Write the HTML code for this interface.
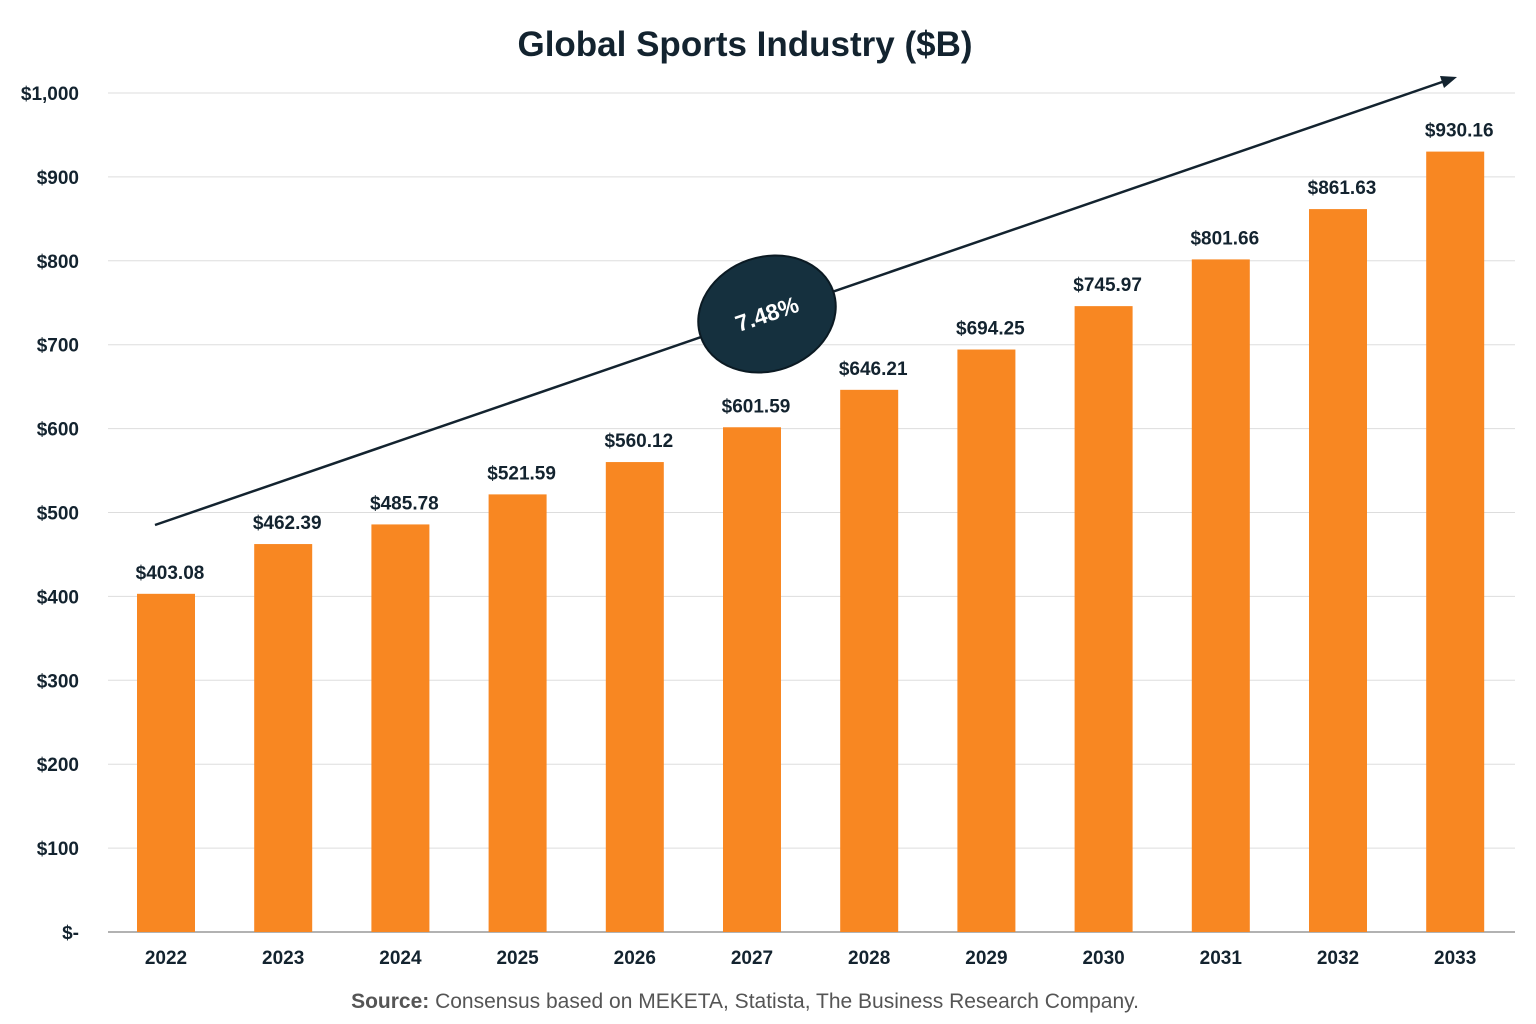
<!DOCTYPE html>
<html><head><meta charset="utf-8"><style>
body{margin:0;background:#fff;}
svg{display:block;font-family:"Liberation Sans",sans-serif;}
</style></head><body>
<svg id="chart" width="1536" height="1024">
<text x="745" y="56" text-anchor="middle" font-size="35" font-weight="bold" fill="#13232f">Global Sports Industry ($B)</text>
<g id="grid"></g><g id="bars"></g>
<line x1="155" y1="525" x2="1445" y2="81" stroke="#13232f" stroke-width="2.5"/>
<polygon points="1457,77 1440,76 1444,88" fill="#13232f"/>
<g transform="translate(767,314) rotate(-19)">
<ellipse rx="70" ry="57" fill="#15303e" stroke="#0b1a23" stroke-width="2"/>
<text y="8" text-anchor="middle" font-size="23" font-weight="bold" fill="#fff">7.48%</text></g>
<text x="745" y="1008" text-anchor="middle" font-size="21" fill="#555"><tspan font-weight="bold">Source:</tspan> Consensus based on MEKETA, Statista, The Business Research Company.</text>
</svg>
<script>
const categories=["2022","2023","2024","2025","2026","2027","2028","2029","2030","2031","2032","2033"];
const values=[403.08,462.39,485.78,521.59,560.12,601.59,646.21,694.25,745.97,801.66,861.63,930.16];
const valueLabels=["$403.08","$462.39","$485.78","$521.59","$560.12","$601.59","$646.21","$694.25","$745.97","$801.66","$861.63","$930.16"];
const ticks=[0,100,200,300,400,500,600,700,800,900,1000];
const tickLabels=["$-","$100","$200","$300","$400","$500","$600","$700","$800","$900","$1,000"];
const NS="http://www.w3.org/2000/svg";
const y=v=>932-v*0.839;
const x=i=>166+i*117.2;
function mk(t,a,p,txt){const e=document.createElementNS(NS,t);for(const k in a)e.setAttribute(k,a[k]);if(txt!==undefined)e.textContent=txt;p.appendChild(e);return e;}
const g=document.getElementById('grid'),b=document.getElementById('bars');
ticks.forEach((t,i)=>{
 const l=mk('line',{x1:108,x2:1515,y1:y(t),y2:y(t),stroke:i==0?'#999':'#ddd','stroke-width':i==0?1.5:1},g);
 
 
 const tx=mk('text',{x:79,y:y(t)+7,'text-anchor':'end','font-size':19,'font-weight':'bold',fill:'#13232f'},g,tickLabels[i]);
 
 
});
categories.forEach((c,i)=>{
 const r=mk('rect',{x:x(i)-29,y:y(values[i]),width:58,height:932-y(values[i]),fill:'#f88722'},b);
 
 
 const v=mk('text',{x:x(i)+4,y:y(values[i])-15,'text-anchor':'middle','font-size':19,'font-weight':'bold',fill:'#13232f'},b,valueLabels[i]);
 
 
 const t=mk('text',{x:x(i),y:964,'text-anchor':'middle','font-size':19,'font-weight':'bold',fill:'#13232f'},b,c);
 
 
});
</script>
</body></html>
